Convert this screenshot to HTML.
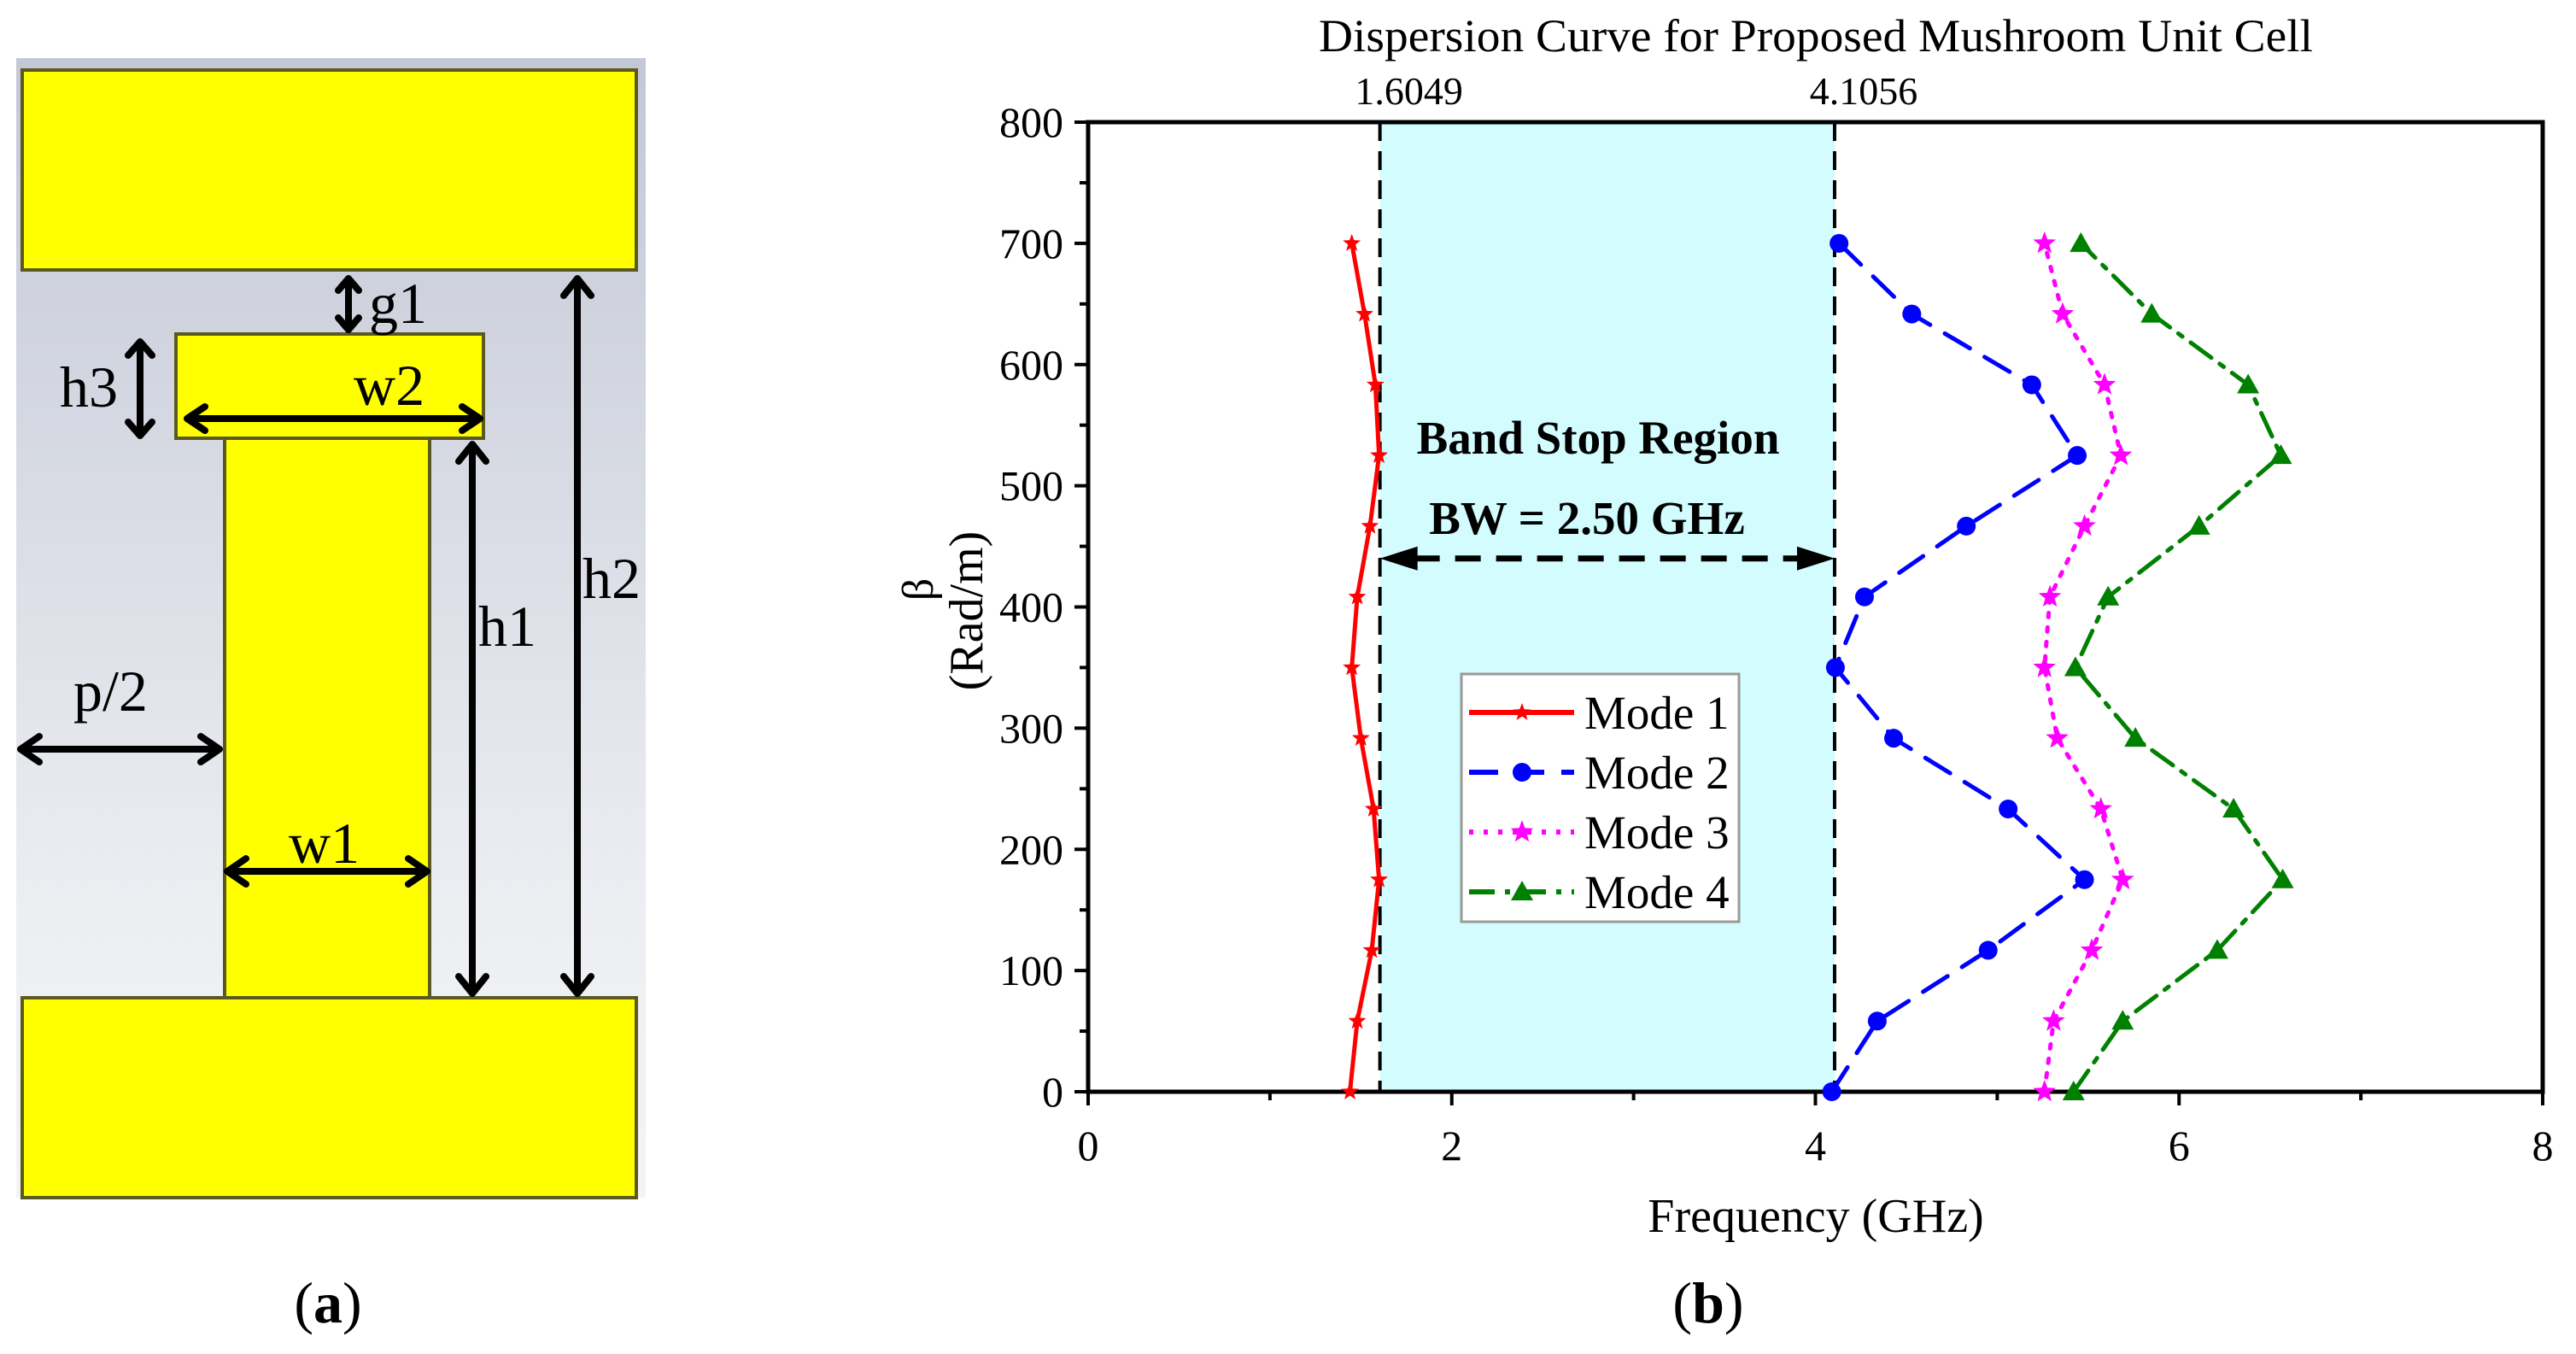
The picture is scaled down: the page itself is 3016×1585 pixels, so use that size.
<!DOCTYPE html>
<html><head><meta charset="utf-8"><style>
html,body{margin:0;padding:0;background:#fff;}
svg{display:block;font-family:"Liberation Serif",serif;}
</style></head><body>
<svg id="root" width="3016" height="1585" viewBox="0 0 3016 1585" xmlns="http://www.w3.org/2000/svg">
<defs>
<linearGradient id="bg" x1="0" y1="0" x2="0" y2="1">
<stop offset="0" stop-color="#c4c8d6"/><stop offset="0.75" stop-color="#eceef2"/><stop offset="1" stop-color="#f4f4f4"/>
</linearGradient>
</defs>
<g>
<rect x="19" y="68" width="737" height="1334" fill="url(#bg)"/>
<rect x="26" y="82" width="719" height="234" fill="#ffff00" stroke="#5a5a20" stroke-width="4"/>
<rect x="26" y="1168" width="719" height="234" fill="#ffff00" stroke="#5a5a20" stroke-width="4"/>
<rect x="263" y="513" width="240" height="655" fill="#ffff00" stroke="#5a5a20" stroke-width="4"/>
<rect x="206" y="391" width="360" height="122" fill="#ffff00" stroke="#5a5a20" stroke-width="4"/>
<g stroke="#000" stroke-width="8" fill="none" stroke-linecap="round" stroke-linejoin="round">
<path d="M408 326 V386 M396 340 L408 326 L420 340 M396 372 L408 386 L420 372"/>
<path d="M164 400 V510 M150 416 L164 400 L178 416 M150 494 L164 510 L178 494"/>
<path d="M219 490 H562 M240 476 L219 490 L240 504 M541 476 L562 490 L541 504"/>
<path d="M553 520 V1163 M537 540 L553 520 L569 540 M537 1143 L553 1163 L569 1143"/>
<path d="M676 326 V1163 M660 346 L676 326 L692 346 M660 1143 L676 1163 L692 1143"/>
<path d="M24 877 H257 M46 862 L24 877 L46 892 M235 862 L257 877 L235 892"/>
<path d="M266 1020 H500 M288 1005 L266 1020 L288 1035 M478 1005 L500 1020 L478 1035"/>
</g>
<g font-size="68" fill="#000">
<text x="432" y="378">g1</text>
<text x="70" y="476">h3</text>
<text x="414" y="474">w2</text>
<text x="560" y="756">h1</text>
<text x="682" y="700">h2</text>
<text x="86" y="832">p/2</text>
<text x="338" y="1010">w1</text>
</g>
<text x="384" y="1548" font-size="68" text-anchor="middle">(<tspan font-weight="bold">a</tspan>)</text>
</g>
<g id="chart"></g>
<text x="2000" y="1548" font-size="68" text-anchor="middle">(<tspan font-weight="bold">b</tspan>)</text>
</svg>
<script>
const betaValues = [0, 58.3, 116.7, 175, 233.3, 291.7, 350, 408.3, 466.7, 525, 583.3, 641.7, 700];
const mode1Freq = [1.44, 1.48, 1.56, 1.60, 1.57, 1.50, 1.45, 1.48, 1.55, 1.60, 1.58, 1.52, 1.45];
const mode2Freq = [4.09, 4.34, 4.95, 5.48, 5.06, 4.43, 4.11, 4.27, 4.83, 5.44, 5.19, 4.53, 4.13];
const mode3Freq = [5.26, 5.31, 5.52, 5.69, 5.57, 5.33, 5.26, 5.29, 5.48, 5.68, 5.59, 5.36, 5.26];
const mode4Freq = [5.42, 5.69, 6.21, 6.57, 6.30, 5.76, 5.43, 5.61, 6.11, 6.56, 6.38, 5.85, 5.46];
const xTicks = [0, 2, 4, 6, 8];
const yTicks = [0, 100, 200, 300, 400, 500, 600, 700, 800];
const bandEdges = [1.6049, 4.1056];
const bandLabels = ["1.6049", "4.1056"];
const arrowBeta = 440;

const NS = "http://www.w3.org/2000/svg";
const L = 1274, R = 2977, T = 143, B = 1278;
const xs = f => L + (f - 0) / 8 * (R - L);
const ys = b => B - b / 800 * (B - T);
const g = document.getElementById('chart');
function mk(tag, attrs, parent) {
  const e = document.createElementNS(NS, tag);
  for (const k in attrs) e.setAttribute(k, attrs[k]);
  (parent || g).appendChild(e);
  return e;
}
const band = mk('rect', {x: xs(bandEdges[0]), y: T, width: xs(bandEdges[1]) - xs(bandEdges[0]), height: B - T, fill: '#d2fcfd'});


const title = mk('text', {x: 2126, y: 60, 'font-size': 54, 'text-anchor': 'middle', textLength: 1164, lengthAdjust: 'spacingAndGlyphs'});
title.textContent = 'Dispersion Curve for Proposed Mushroom Unit Cell';


bandEdges.forEach((f, i) => {
  const ln = mk('line', {x1: xs(f), x2: xs(f), y1: T, y2: B, stroke: '#000', 'stroke-width': 4, 'stroke-dasharray': '22 12'});
  
  
  const t = mk('text', {x: xs(f) + 34, y: 122, 'font-size': 46, 'text-anchor': 'middle'});
  t.textContent = bandLabels[i];
  
  
});
const frame = mk('rect', {x: L, y: T, width: R - L, height: B - T, fill: 'none', stroke: '#000', 'stroke-width': 5});


for (let v = 0; v <= 8; v += 1) {
  const major = v % 2 === 0;
  const tk = mk('line', {x1: xs(v), x2: xs(v), y1: B, y2: B + (major ? 16 : 10), stroke: '#000', 'stroke-width': 4});
  
  
}
xTicks.forEach(v => {
  const t = mk('text', {x: xs(v), y: 1358, 'font-size': 50, 'text-anchor': 'middle'});
  t.textContent = v;
  
  
});
for (let v = 0; v <= 800; v += 50) {
  const major = v % 100 === 0;
  const tk = mk('line', {x1: L - (major ? 16 : 10), x2: L, y1: ys(v), y2: ys(v), stroke: '#000', 'stroke-width': 4});
  
  
}
yTicks.forEach(v => {
  const t = mk('text', {x: 1245, y: ys(v) + 17, 'font-size': 50, 'text-anchor': 'end'});
  t.textContent = v;
  
  
});
const xl = mk('text', {x: 2126, y: 1442, 'font-size': 56, 'text-anchor': 'middle'});
xl.textContent = 'Frequency (GHz)';


const yl = mk('text', {x: 0, y: 0, 'font-size': 56, 'text-anchor': 'middle', transform: 'translate(1150,715) rotate(-90)'});
yl.textContent = '(Rad/m)';


const yb = mk('text', {x: 0, y: 0, 'font-size': 52, 'text-anchor': 'middle', transform: 'translate(1092,690) rotate(-90)'});
yb.textContent = 'β';


const a1 = mk('text', {x: 1871, y: 531, 'font-size': 55, 'font-weight': 'bold', 'text-anchor': 'middle'});
a1.textContent = 'Band Stop Region';


const a2 = mk('text', {x: 1858, y: 625, 'font-size': 55, 'font-weight': 'bold', 'text-anchor': 'middle'});
a2.textContent = 'BW = 2.50 GHz';


const ay = ys(arrowBeta), ax1 = xs(bandEdges[0]), ax2 = xs(bandEdges[1]);
const arr = mk('line', {x1: ax1 + 40, x2: ax2 - 40, y1: ay, y2: ay, stroke: '#000', 'stroke-width': 7, 'stroke-dasharray': '30 18'});


const h1 = mk('path', {d: `M${ax1} ${ay} l44 -14 l0 28 z`, fill: '#000'});


const h2 = mk('path', {d: `M${ax2} ${ay} l-44 -14 l0 28 z`, fill: '#000'});



function starPath(cx, cy, r) {
  let d = '';
  for (let i = 0; i < 10; i++) {
    const rr = i % 2 ? r * 0.42 : r;
    const a = -Math.PI / 2 + i * Math.PI / 5;
    d += (i ? 'L' : 'M') + (cx + rr * Math.cos(a)).toFixed(1) + ' ' + (cy + rr * Math.sin(a)).toFixed(1);
  }
  return d + 'Z';
}
function marker(type, cx, cy, color, parent) {
  if (type === 'circle') return mk('circle', {cx, cy, r: 11, fill: color}, parent);
  if (type === 'tri') return mk('path', {d: `M${cx} ${cy - 13} L${cx + 13} ${cy + 10} L${cx - 13} ${cy + 10} Z`, fill: color}, parent);
  return mk('path', {d: starPath(cx, cy, type === 'star-s' ? 11 : 14), fill: color}, parent);
}
const series = [
  {name: 'mode-1', label: 'Mode 1', data: mode1Freq, color: '#ff0000', dash: '', m: 'star-s'},
  {name: 'mode-2', label: 'Mode 2', data: mode2Freq, color: '#0000ff', dash: '34 20', m: 'circle'},
  {name: 'mode-3', label: 'Mode 3', data: mode3Freq, color: '#ff00ff', dash: '5 12', m: 'star'},
  {name: 'mode-4', label: 'Mode 4', data: mode4Freq, color: '#008000', dash: '30 12 6 12', m: 'tri'}
];
series.forEach(s => {
  const sg = mk('g', {});
  
  
  const pts = s.data.map((f, i) => xs(f).toFixed(1) + ',' + ys(betaValues[i]).toFixed(1)).join(' ');
  const pl = mk('polyline', {points: pts, fill: 'none', stroke: s.color, 'stroke-width': 5, 'stroke-dasharray': s.dash, 'stroke-linecap': 'round'}, sg);
  
  
  s.data.forEach((f, i) => {
    const mm = marker(s.m, xs(f), ys(betaValues[i]), s.color, sg);
    
    
  });
});
const lg = mk('g', {});


const lb = mk('rect', {x: 1711, y: 789, width: 325, height: 290, fill: '#fff', stroke: '#999', 'stroke-width': 3}, lg);


series.forEach((s, i) => {
  const y = 834 + i * 70;
  const ll = mk('line', {x1: 1720, x2: 1843, y1: y, y2: y, stroke: s.color, 'stroke-width': 6, 'stroke-dasharray': s.dash}, lg);
  
  
  const mm = marker(s.m, 1782, y, s.color, lg);
  
  
  const t = mk('text', {x: 1855, y: y + 19, 'font-size': 55}, lg);
  t.textContent = s.label;
  
  
});
</script>
</body></html>
